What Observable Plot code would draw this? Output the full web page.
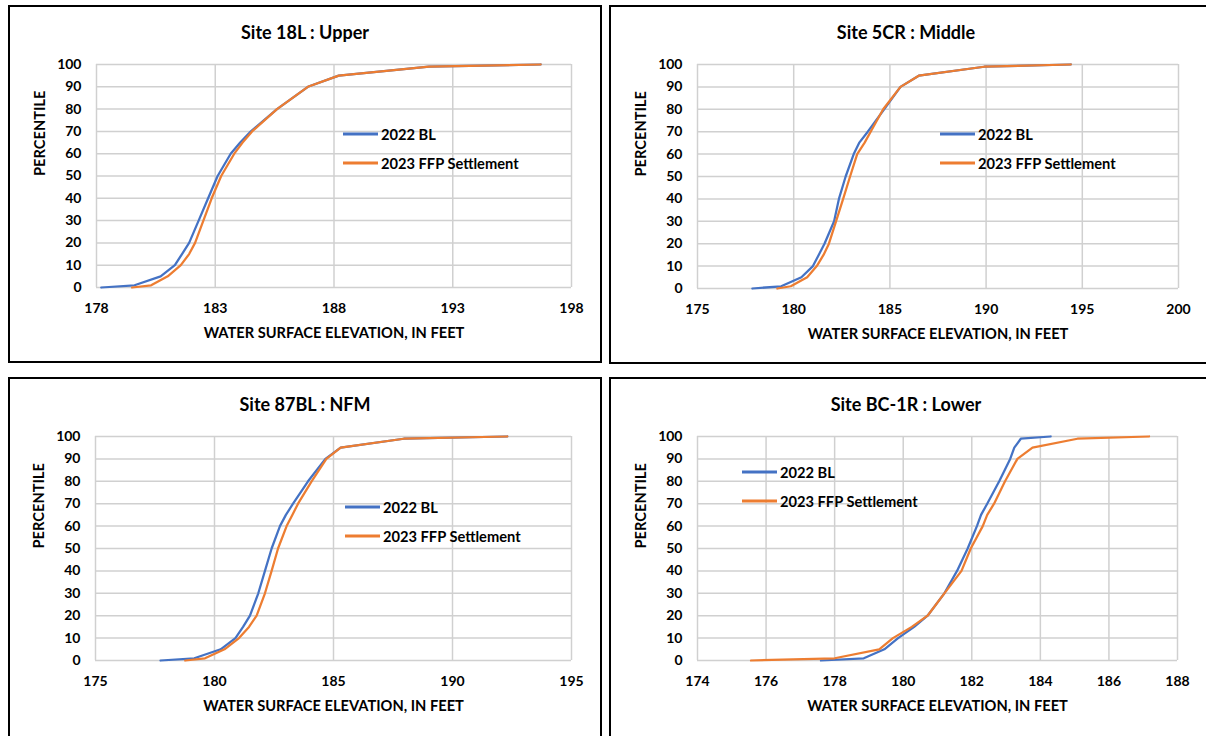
<!DOCTYPE html>
<html><head><meta charset="utf-8">
<script src="https://cdn.jsdelivr.net/npm/d3@7"></script>
<script src="https://cdn.jsdelivr.net/npm/@observablehq/plot@0.6"></script>
<style>
body{margin:0;background:#fff;font-family:Lato,"Open Sans",sans-serif;}
#page{position:relative;width:1206px;height:736px;overflow:hidden;background:#fff;}
.panel{position:absolute;border:2px solid #000;box-sizing:border-box;pointer-events:none;}
.title{position:absolute;font-weight:bold;font-size:18px;transform:translate(-50%,-50%);white-space:nowrap;color:#000;}
.plot{position:absolute;}
.legend{position:absolute;font-weight:bold;font-size:14.67px;color:#000;}
.legend .item{position:absolute;display:flex;align-items:center;white-space:nowrap;transform:translateY(-50%);}
.legend .swatch{width:35px;height:2.5px;margin-right:3px;}
</style></head>
<body><div id="page"></div>
<script>
// ---- data ----
const percentiles = [0, 1, 5, 10, 15, 20, 30, 40, 50, 60, 65, 70, 80, 90, 95, 99, 100];
const seriesNames = ["2022 BL", "2023 FFP Settlement"];
const seriesColors = ["#4472C4", "#ED7D31"];
const siteTitles = ["Site 18L : Upper", "Site 5CR : Middle", "Site 87BL : NFM", "Site BC-1R : Lower"];

const site18L_BL  = [178.2, 179.6, 180.7, 181.3, 181.6, 181.9, 182.3, 182.7, 183.1, 183.65, 184.05, 184.5, 185.6, 186.9, 188.2, 192.0, 196.7];
const site18L_FFP = [179.5, 180.3, 181.0, 181.55, 181.9, 182.15, 182.5, 182.85, 183.25, 183.8, 184.15, 184.55, 185.6, 186.9, 188.2, 192.0, 196.7];

const site5CR_BL  = [177.85, 179.35, 180.4, 181.0, 181.3, 181.6, 182.1, 182.35, 182.7, 183.12, 183.4, 183.85, 184.7, 185.55, 186.5, 189.9, 194.4];
const site5CR_FFP = [179.15, 179.85, 180.7, 181.2, 181.55, 181.83, 182.2, 182.57, 182.93, 183.3, 183.68, 184.0, 184.65, 185.55, 186.5, 189.9, 194.4];

const site87BL_BL  = [177.73, 179.15, 180.26, 180.88, 181.2, 181.49, 181.84, 182.12, 182.4, 182.75, 183.0, 183.3, 183.93, 184.66, 185.3, 187.95, 192.3];
const site87BL_FFP = [178.77, 179.6, 180.42, 181.03, 181.45, 181.77, 182.12, 182.4, 182.67, 183.03, 183.27, 183.51, 184.08, 184.7, 185.3, 187.95, 192.3];

const siteBC1R_BL  = [177.6, 178.85, 179.45, 179.85, 180.32, 180.71, 181.2, 181.57, 181.88, 182.15, 182.27, 182.45, 182.8, 183.12, 183.24, 183.43, 184.3];
const siteBC1R_FFP = [175.56, 178.0, 179.3, 179.7, 180.25, 180.71, 181.2, 181.7, 181.97, 182.32, 182.45, 182.65, 182.97, 183.33, 183.77, 185.08, 187.17];

const xTicks18L  = [178, 183, 188, 193, 198];
const xTicks5CR  = [175, 180, 185, 190, 195, 200];
const xTicks87BL = [175, 180, 185, 190, 195];
const xTicksBC1R = [174, 176, 178, 180, 182, 184, 186, 188];
const yTicks = [0, 10, 20, 30, 40, 50, 60, 70, 80, 90, 100];

const xLabel = "WATER SURFACE ELEVATION, IN FEET";
const yLabel = "PERCENTILE";

// ---- layout ----
const panels = [
  {title: siteTitles[0], bl: site18L_BL, ffp: site18L_FFP, xTicks: xTicks18L, box: [8, 5, 594, 358], plot: [96, 64, 571, 287], legend: [343, 134]},
  {title: siteTitles[1], bl: site5CR_BL, ffp: site5CR_FFP, xTicks: xTicks5CR, box: [609, 5, 600, 359], plot: [697, 64, 1178, 288], legend: [940, 134]},
  {title: siteTitles[2], bl: site87BL_BL, ffp: site87BL_FFP, xTicks: xTicks87BL, box: [8, 377, 594, 362], plot: [95, 436, 571, 660], legend: [345, 507]},
  {title: siteTitles[3], bl: siteBC1R_BL, ffp: siteBC1R_FFP, xTicks: xTicksBC1R, box: [609, 377, 600, 362], plot: [697, 436, 1177, 660], legend: [742, 472]}
];

const page = document.getElementById("page");
const FONT = 'Lato, "Open Sans", sans-serif';

for (const p of panels) {
  const [bx, by, bw, bh] = p.box;
  const [px0, py0, px1, py1] = p.plot;
  const rows = [];
  percentiles.forEach((q, i) => rows.push({series: seriesNames[0], pct: q, elev: p.bl[i]}));
  percentiles.forEach((q, i) => rows.push({series: seriesNames[1], pct: q, elev: p.ffp[i]}));
  const xDomain = [p.xTicks[0], p.xTicks[p.xTicks.length - 1]];
  const chart = Plot.plot({
    width: bw,
    height: bh,
    marginLeft: px0 - bx,
    marginRight: bx + bw - px1,
    marginTop: py0 - by,
    marginBottom: by + bh - py1,
    style: {fontFamily: FONT, fontSize: "14px", fontWeight: "bold", color: "#000", background: "#fff", overflow: "visible"},
    x: {domain: xDomain, ticks: p.xTicks, tickSize: 0, tickPadding: 16, label: null, tickFormat: d => String(d)},
    y: {domain: [0, 100], ticks: yTicks, tickSize: 0, tickPadding: 15, label: null},
    color: {domain: seriesNames, range: seriesColors},
    marks: [
      Plot.ruleX(p.xTicks, {stroke: "#d0d0d0", strokeWidth: 1.5}),
      Plot.ruleY(yTicks, {stroke: "#d0d0d0", strokeWidth: 1.5}),
      Plot.line(rows, {x: "elev", y: "pct", stroke: "series", z: "series", strokeWidth: 2.25, curve: "linear"}),
      Plot.text([xLabel], {text: d => d, frameAnchor: "bottom", dy: 50, fontSize: 14.67, fontWeight: "bold", fill: "#000"}),
      Plot.text([yLabel], {text: d => d, frameAnchor: "left", dx: -56, rotate: -90, fontSize: 14.67, fontWeight: "bold", fill: "#000"})
    ]
  });
  chart.classList.add("plot");
  chart.style.left = bx + "px";
  chart.style.top = by + "px";
  page.appendChild(chart);

  const border = document.createElement("div");
  border.className = "panel";
  Object.assign(border.style, {left: bx + "px", top: by + "px", width: bw + "px", height: bh + "px"});
  page.appendChild(border);

  const title = document.createElement("div");
  title.className = "title";
  title.textContent = p.title;
  title.style.left = (bx + bw / 2 - (bw === 600 ? 3 : 0)) + "px";
  title.style.top = (by + 26.5) + "px";
  page.appendChild(title);

  const legend = document.createElement("div");
  legend.className = "legend";
  seriesNames.forEach((name, i) => {
    const item = document.createElement("div");
    item.className = "item";
    item.style.left = p.legend[0] + "px";
    item.style.top = (p.legend[1] + i * 29) + "px";
    const sw = document.createElement("span");
    sw.className = "swatch";
    sw.style.background = seriesColors[i];
    const tx = document.createElement("span");
    tx.textContent = name;
    item.appendChild(sw);
    item.appendChild(tx);
    legend.appendChild(item);
  });
  page.appendChild(legend);
}
</script></body></html>
